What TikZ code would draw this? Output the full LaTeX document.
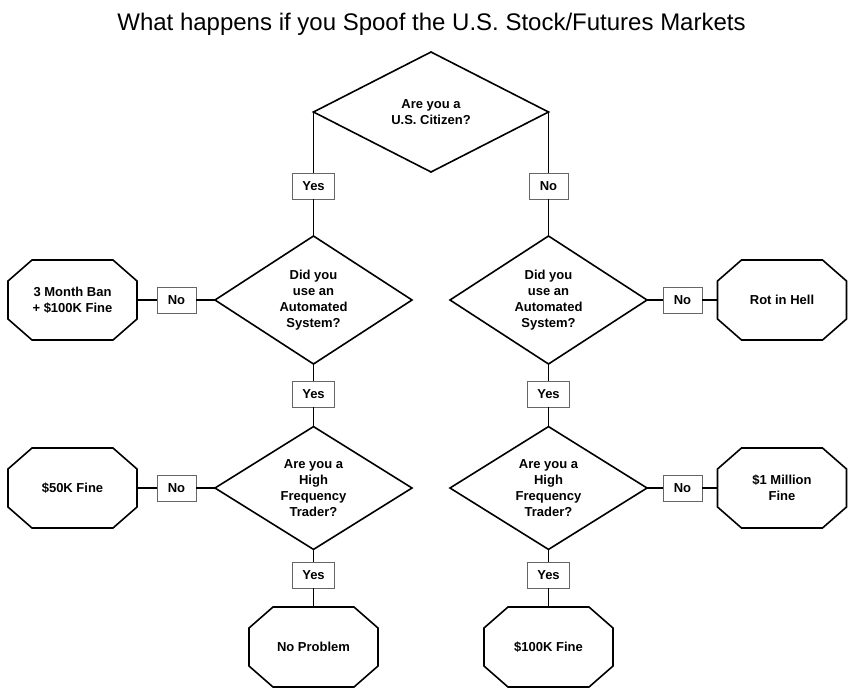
\documentclass[tikz,border=0pt]{standalone}
\usepackage{fontspec}
\setmainfont{Liberation Sans}
\usetikzlibrary{shapes.geometric}
\tikzset{
  txt/.style={font=\bfseries\fontsize{13}{16}\selectfont, align=center},
  ques/.style={txt, shape=diamond, draw=black, line width=1.6pt, fill=white, inner sep=0pt, outer sep=0pt},
  endbox/.style={txt, shape=rectangle, draw=none, minimum width=129pt, minimum height=80pt, inner sep=0pt, outer sep=0pt},
  lbl/.style={txt, shape=rectangle, draw=black!60, line width=0.9pt, fill=white, minimum width=39pt, minimum height=26pt, inner sep=0pt, outer sep=0pt},
  conn/.style={draw=black, line width=1.6pt},
  octline/.style={draw=black, line width=1.6pt, fill=white},
}
\newcommand\octa[1]{%
  \path[octline] ([xshift=24pt]#1.north west) -- ([xshift=-24pt]#1.north east)
    -- ([yshift=-21pt]#1.north east) -- ([yshift=21pt]#1.south east)
    -- ([xshift=-24pt]#1.south east) -- ([xshift=24pt]#1.south west)
    -- ([yshift=21pt]#1.south west) -- ([yshift=-21pt]#1.north west) -- cycle;}
\begin{document}
\begin{tikzpicture}[x=1pt,y=-1pt]
\useasboundingbox[fill=white] (0,0) rectangle (856,699);
\node (title) at (431.5,24) {\fontsize{24}{28}\selectfont What happens if you Spoof the U.S. Stock/Futures Markets};

% question diamonds
\node[ques, minimum width=235pt, minimum height=120pt] (q1) at (431,112) {Are you a\\U.S. Citizen?};
\node[ques, minimum width=197pt, minimum height=121pt] (q2l) at (313.5,300) {Did you\\use an\\Automated\\System?};
\node[ques, minimum width=197pt, minimum height=121pt] (q2r) at (548.5,300) {Did you\\use an\\Automated\\System?};
\node[ques, minimum width=197pt, minimum height=121pt] (q3l) at (313.5,488) {Are you a\\High\\Frequency\\Trader?};
\node[ques, minimum width=197pt, minimum height=121pt] (q3r) at (548.5,488) {Are you a\\High\\Frequency\\Trader?};

% labels
\node[lbl, minimum width=42pt] (y1) at (313.5,186) {Yes};
\node[lbl] (n1) at (548.5,186) {No};
\node[lbl] (n2l) at (176.5,300) {No};
\node[lbl] (n2r) at (682.5,300) {No};
\node[lbl, minimum width=42pt] (y2l) at (313.5,394) {Yes};
\node[lbl, minimum width=42pt] (y2r) at (548.5,394) {Yes};
\node[lbl] (n3l) at (176.5,488) {No};
\node[lbl] (n3r) at (682.5,488) {No};
\node[lbl, minimum width=42pt] (y3l) at (313.5,575) {Yes};
\node[lbl, minimum width=42pt] (y3r) at (548.5,575) {Yes};

% end boxes (outline drawn below)
\node[endbox] (e1) at (72.5,300) {};
\node[endbox] (e2) at (782,300) {};
\node[endbox] (e3) at (72.5,488) {};
\node[endbox] (e4) at (782,488) {};
\node[endbox] (e5) at (313.5,647) {};
\node[endbox] (e6) at (548.5,647) {};

% connectors
\draw[conn] (q1.west) -- (y1.north);
\draw[conn] (y1.south) -- (q2l.north);
\draw[conn] (q1.east) -- (n1.north);
\draw[conn] (n1.south) -- (q2r.north);
\draw[conn] (q2l.west) -- (n2l.east);
\draw[conn] (n2l.west) -- (e1.east);
\draw[conn] (q2r.east) -- (n2r.west);
\draw[conn] (n2r.east) -- (e2.west);
\draw[conn] (q2l.south) -- (y2l.north);
\draw[conn] (y2l.south) -- (q3l.north);
\draw[conn] (q2r.south) -- (y2r.north);
\draw[conn] (y2r.south) -- (q3r.north);
\draw[conn] (q3l.west) -- (n3l.east);
\draw[conn] (n3l.west) -- (e3.east);
\draw[conn] (q3r.east) -- (n3r.west);
\draw[conn] (n3r.east) -- (e4.west);
\draw[conn] (q3l.south) -- (y3l.north);
\draw[conn] (y3l.south) -- (e5.north);
\draw[conn] (q3r.south) -- (y3r.north);
\draw[conn] (y3r.south) -- (e6.north);

% octagons
\octa{e1}\octa{e2}\octa{e3}\octa{e4}\octa{e5}\octa{e6}
\node[txt] at (e1) {3 Month Ban\\+ \$100K Fine};
\node[txt] at (e2) {Rot in Hell};
\node[txt] at (e3) {\$50K Fine};
\node[txt] at (e4) {\$1 Million\\Fine};
\node[txt] at (e5) {No Problem};
\node[txt] at (e6) {\$100K Fine};
\end{tikzpicture}
\end{document}
